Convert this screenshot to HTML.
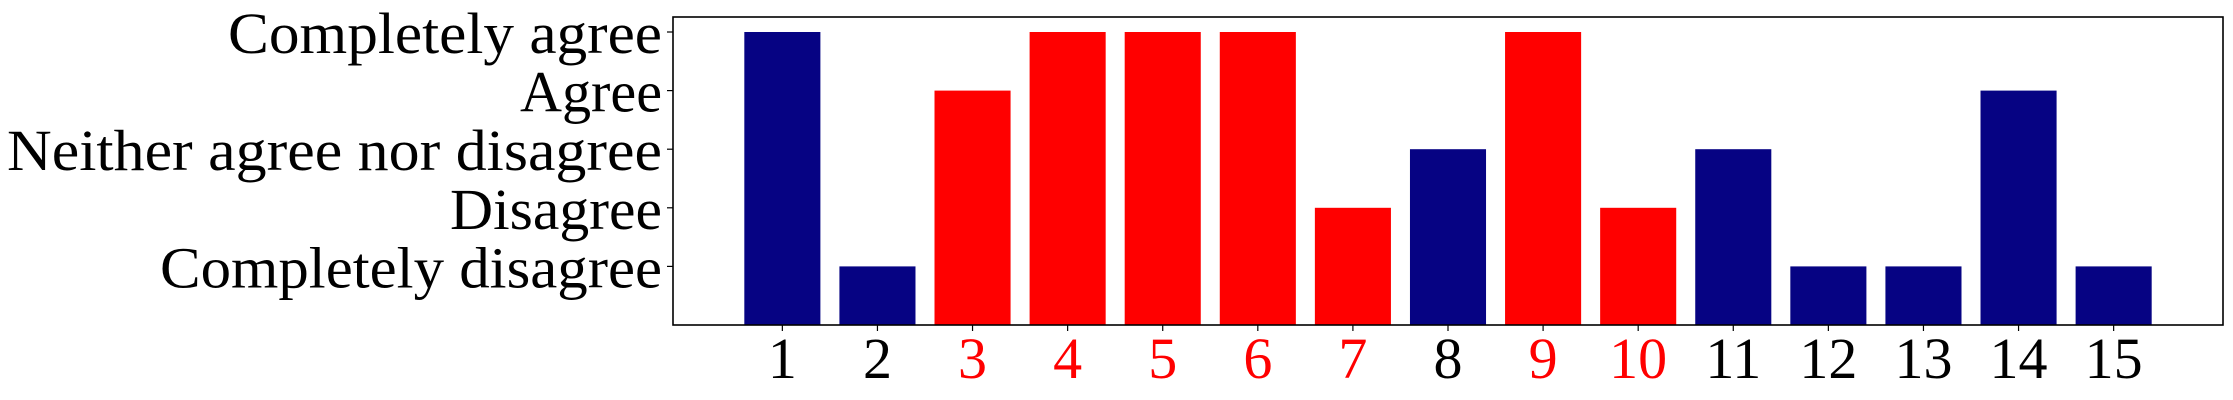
<!DOCTYPE html>
<html><head><meta charset="utf-8"><style>
html,body{margin:0;padding:0;background:#fff;}
svg{display:block;font-family:"Liberation Serif",serif;}
</style></head><body>
<svg id="chart" width="2233" height="400" viewBox="0 0 2233 400" xmlns="http://www.w3.org/2000/svg">
<g id="bars"></g>
<rect x="673" y="17" width="1550" height="308" fill="none" stroke="#000" stroke-width="1.6"/>
<g id="yaxis"></g>
<g id="xaxis"></g>
</svg>
<script>
const categories = ["1","2","3","4","5","6","7","8","9","10","11","12","13","14","15"];
const values = [5,1,4,5,5,5,2,3,5,2,3,1,1,4,1];
const highlighted = [false,false,true,true,true,true,true,false,true,true,false,false,false,false,false];
const yTickValues = [1,2,3,4,5];
const yTickLabels = ["Completely disagree","Disagree","Neither agree nor disagree","Agree","Completely agree"];

const NS = "http://www.w3.org/2000/svg";
const plotLeft = 673, plotRight = 2223, plotTop = 17, plotBottom = 325;
const xMin = 1 - 1.15, xMax = categories.length + 1.15;
function xScale(i){ return plotLeft + (i - xMin) / (xMax - xMin) * (plotRight - plotLeft); }
function yScale(v){ return plotBottom - v * 58.6; }
const step = xScale(2) - xScale(1);
const barW = step * 0.8;
const labelStarts = [160, 450, 7, 520, 228];
const labelRight = 662;

const bars = document.getElementById('bars');
values.forEach((v, i) => {
  const r = document.createElementNS(NS, 'rect');
  
  
  const cx = xScale(i + 1);
  r.setAttribute('x', cx - barW / 2);
  r.setAttribute('y', yScale(v));
  r.setAttribute('width', barW);
  r.setAttribute('height', plotBottom - yScale(v));
  r.setAttribute('fill', highlighted[i] ? '#ff0000' : '#060383');
  bars.appendChild(r);
});

const xa = document.getElementById('xaxis');
categories.forEach((c, i) => {
  const cx = xScale(i + 1);
  const t = document.createElementNS(NS, 'line');
  
  
  t.setAttribute('x1', cx); t.setAttribute('x2', cx);
  t.setAttribute('y1', plotBottom); t.setAttribute('y2', plotBottom + 6);
  t.setAttribute('stroke', '#000'); t.setAttribute('stroke-width', '1.2');
  xa.appendChild(t);
  const l = document.createElementNS(NS, 'text');
  
  
  l.setAttribute('x', cx); l.setAttribute('y', 378);
  l.setAttribute('text-anchor', 'middle');
  l.setAttribute('font-size', '58');
  l.setAttribute('fill', highlighted[i] ? '#ff0000' : '#000');
  l.textContent = c;
  xa.appendChild(l);
});

const ya = document.getElementById('yaxis');
yTickValues.forEach((v, k) => {
  const y = yScale(v);
  const t = document.createElementNS(NS, 'line');
  
  
  t.setAttribute('x1', plotLeft - 6); t.setAttribute('x2', plotLeft);
  t.setAttribute('y1', y); t.setAttribute('y2', y);
  t.setAttribute('stroke', '#000'); t.setAttribute('stroke-width', '1.2');
  ya.appendChild(t);
  const l = document.createElementNS(NS, 'text');
  
  
  l.setAttribute('x', labelStarts[k]); l.setAttribute('y', y + 21);
  l.setAttribute('font-size', '58');
  l.setAttribute('textLength', labelRight - labelStarts[k]);
  l.setAttribute('lengthAdjust', 'spacingAndGlyphs');
  l.textContent = yTickLabels[k];
  ya.appendChild(l);
});
</script>
</body></html>
